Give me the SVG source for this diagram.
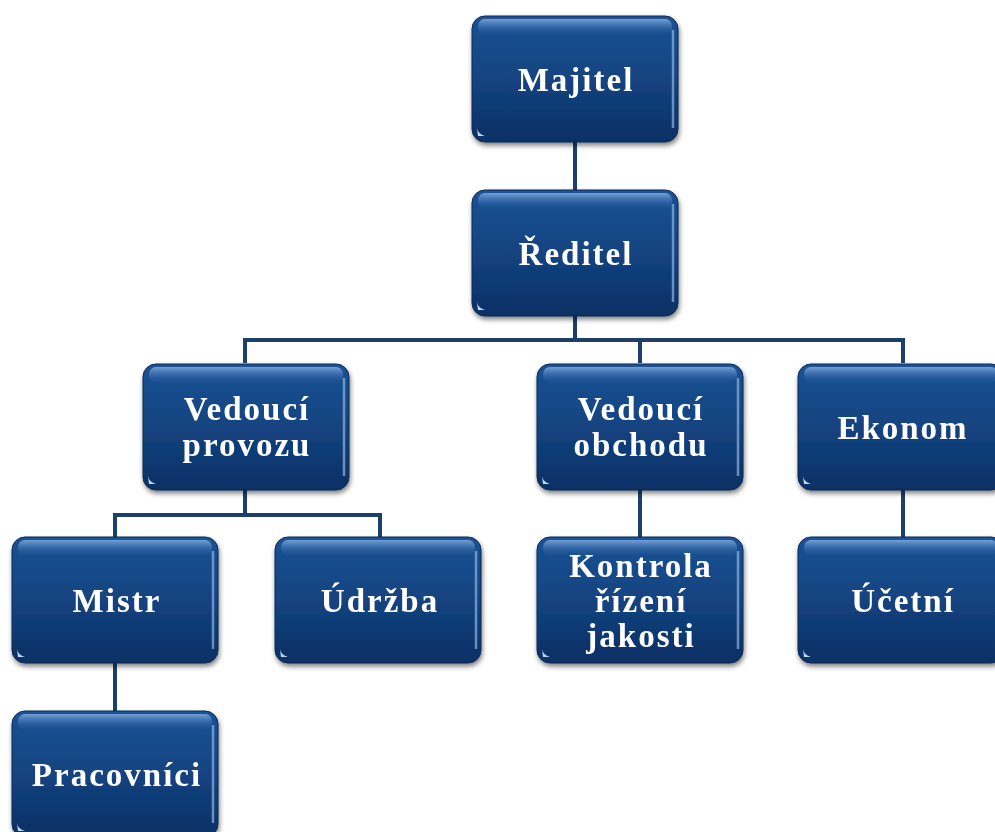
<svg xmlns="http://www.w3.org/2000/svg" width="995" height="832" viewBox="0 0 995 832">
<style>
.box{fill:url(#g);stroke:#0b2a55;stroke-width:1}
.hl{fill:url(#h)}
.rh{fill:none;stroke:#8fb4e0;stroke-width:2.5;stroke-opacity:0.7}
.t{font-family:"Liberation Serif","Times New Roman",serif;font-weight:bold;font-size:33px;letter-spacing:2px;fill:#ffffff;text-anchor:middle}
.c{fill:none;stroke:#1d3f6b;stroke-width:4}
</style>
<defs>
<linearGradient id="g" x1="0" y1="0" x2="0" y2="1">
<stop offset="0" stop-color="#1b5294"/>
<stop offset="0.5" stop-color="#134380"/>
<stop offset="1" stop-color="#0c2f64"/>
</linearGradient>
<linearGradient id="h" x1="0" y1="0" x2="0" y2="1">
<stop offset="0" stop-color="#7fa9dd" stop-opacity="0.9"/>
<stop offset="1" stop-color="#2a64a8" stop-opacity="0"/>
</linearGradient>
<filter id="s" x="-10%" y="-10%" width="125%" height="130%">
<feGaussianBlur in="SourceAlpha" stdDeviation="2.5"/>
<feOffset dx="1" dy="3" result="b"/>
<feComponentTransfer><feFuncA type="linear" slope="0.5"/></feComponentTransfer>
<feMerge><feMergeNode/><feMergeNode in="SourceGraphic"/></feMerge>
</filter>
<g id="node">
<rect class="box" x="0" y="0" width="206" height="126" rx="13"/>
<rect class="hl" x="6" y="3" width="194" height="16" rx="7"/>
<path class="rh" d="M201,14 V112"/>
<path d="M5,112 q1,6 8,8 h-7 z" fill="#bcd8f5"/>
</g>
</defs>
<g id="connectors">
<path class="c" d="M575,142 V190"/>
<path class="c" d="M575,316 V340 M245,363 V340 H903 V363 M640,340 V363"/>
<path class="c" d="M245,490 V515 M115,537 V515 H380 V537"/>
<path class="c" d="M640,490 V537"/>
<path class="c" d="M903,490 V537"/>
<path class="c" d="M115,663 V711"/>
</g>
<g id="n-majitel" filter="url(#s)"><use href="#node" x="472" y="16"/><text class="t" x="576" y="91">Majitel</text></g>
<g id="n-reditel" filter="url(#s)"><use href="#node" x="472" y="190"/><text class="t" x="576" y="265">Ředitel</text></g>
<g id="n-vprovozu" filter="url(#s)"><use href="#node" x="143" y="364"/><text class="t" x="247" y="420">Vedoucí</text><text class="t" x="247" y="456">provozu</text></g>
<g id="n-vobchodu" filter="url(#s)"><use href="#node" x="537" y="364"/><text class="t" x="641" y="420">Vedoucí</text><text class="t" x="641" y="456">obchodu</text></g>
<g id="n-ekonom" filter="url(#s)"><use href="#node" x="798" y="364"/><text class="t" x="903" y="439">Ekonom</text></g>
<g id="n-mistr" filter="url(#s)"><use href="#node" x="12" y="537"/><text class="t" x="117" y="612">Mistr</text></g>
<g id="n-udrzba" filter="url(#s)"><use href="#node" x="275" y="537"/><text class="t" x="380" y="612">Údržba</text></g>
<g id="n-kontrola" filter="url(#s)"><use href="#node" x="537" y="537"/><text class="t" x="641" y="577">Kontrola</text><text class="t" x="641" y="612">řízení</text><text class="t" x="641" y="647">jakosti</text></g>
<g id="n-ucetni" filter="url(#s)"><use href="#node" x="798" y="537"/><text class="t" x="903" y="612">Účetní</text></g>
<g id="n-pracovnici" filter="url(#s)"><use href="#node" x="12" y="711"/><text class="t" x="117" y="786">Pracovníci</text></g>
</svg>
